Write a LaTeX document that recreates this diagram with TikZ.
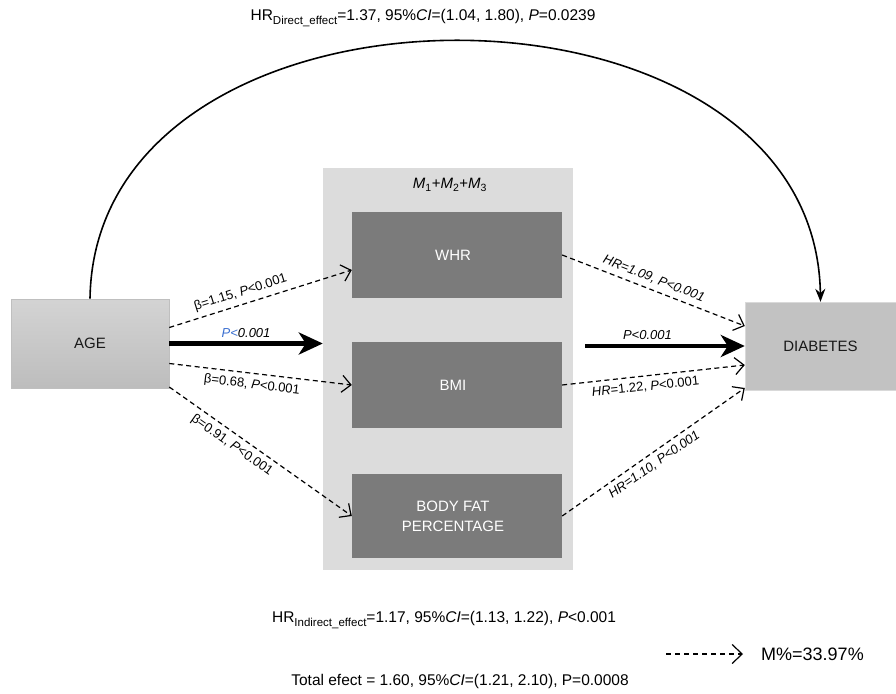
\documentclass[tikz,border=0pt]{standalone}
\usepackage{fontspec}
\setmainfont{Liberation Sans}
\usetikzlibrary{arrows.meta,calc}
\definecolor{panelgray}{HTML}{DCDCDC}
\definecolor{innergray}{HTML}{7B7B7B}
\definecolor{diabgray}{HTML}{C2C2C2}
\definecolor{pblue}{HTML}{3A6FD0}
\newcommand{\mysub}[1]{\raisebox{-4pt}{\fontsize{11.5}{12}\selectfont #1}}
\tikzset{
  agebox/.style={draw=black!25,line width=0.6pt,top color=black!17,bottom color=black!26,minimum width=158pt,minimum height=89pt,font=\fontsize{15}{17}\selectfont,text=black!90},
  diabbox/.style={fill=diabgray,draw=black!15,line width=0.4pt,minimum width=151pt,minimum height=88pt,font=\fontsize{15}{17}\selectfont,text=black!90},
  panelbox/.style={fill=panelgray,draw=none,minimum width=250pt,minimum height=402pt},
  medbox/.style={fill=innergray,draw=none,minimum width=210pt,text=white,font=\fontsize{15}{20}\selectfont,align=center},
  dasharrow/.style={dashed,dash pattern=on 5pt off 3.5pt,line width=1.2pt,-{Straight Barb[length=9pt,width=17pt,line width=1.2pt]}},
  thickarrow/.style={line width=4.5pt,-{Stealth[length=24pt,width=22pt,inset=7pt]}},
  elabel/.style={font=\fontsize{13}{15}\selectfont,inner sep=5pt},
  toplabel/.style={font=\fontsize{15.5}{18}\selectfont},
}
\begin{document}
\begin{tikzpicture}[x=1pt,y=-1pt]
\useasboundingbox (0,0) rectangle (896,693);
\node[panelbox] (panel) at (448,369) {};
\node at (450,185) [font=\fontsize{15}{17}\selectfont] (mlab) {\textit{M}\textsubscript{1}+\textit{M}\textsubscript{2}+\textit{M}\textsubscript{3}};
\node[medbox,minimum height=86pt,text depth=0pt] (whr) at (457,255) {\hspace*{-8pt}WHR};
\node[medbox,minimum height=86pt] (bmi) at (457,385) {\hspace*{-8pt}BMI};
\node[medbox,minimum height=84pt] (body) at (457,516) {\hspace*{-8pt}BODY FAT\\\hspace*{-8pt}PERCENTAGE};
\node[agebox] (age) at (90,343.5) {AGE};
\node[diabbox] (diab) at (820.5,346) {DIABETES};

% direct effect curve
\draw[line width=1.6pt,-{Stealth[length=13pt,width=10pt]}] (age.north) .. controls (95,-45) and (815,-45) .. (diab.north);
\node[toplabel] (toptext) at (423,18) {HR\mysub{Direct\_effect}=1.37, 95\%\textit{CI}=(1.04, 1.80), \textit{P}=0.0239};

% age -> mediators
\draw[dasharrow] ([yshift=16pt]age.east) -- node[elabel,sloped,above,pos=0.41] (l1) {β=1.15, \textit{P}<0.001} ([yshift=-15pt]whr.west);
\draw[thickarrow] (age.east) -- node[elabel,above,pos=0.5,inner sep=2pt,yshift=2pt] (l2) {\textit{\textcolor{pblue}{P<}0.001}} (panel.west |- age.east);
\draw[dasharrow] ([yshift=-20pt]age.east) -- node[elabel,sloped,below,pos=0.46] (l3) {β=0.68, \textit{P}<0.001} (bmi.west);
\draw[dasharrow] ([yshift=-43.5pt]age.east) -- node[elabel,sloped,below,pos=0.38] (l4) {β=0.91, \textit{P}<0.001} (body.west);

% mediators -> diabetes
\draw[dasharrow] (whr.east) -- node[elabel,sloped,above,pos=0.48] (r1) {\textit{HR=1.09, P<0.001}} ([yshift=20pt]diab.west);
\draw[thickarrow] ([xshift=12pt]panel.east |- diab.west) -- node[elabel,above,pos=0.39,inner sep=2pt,yshift=2pt] (r2) {\textit{P<0.001}} (diab.west);
\draw[dasharrow] (bmi.east) -- node[elabel,sloped,below,pos=0.45] (r3) {\textit{HR}=1.22, \textit{P}<0.001} ([yshift=-19pt]diab.west);
\draw[dasharrow] (body.east) -- node[elabel,sloped,below,pos=0.47] (r4) {\textit{HR=1.10, P<0.001}} ([yshift=-42pt]diab.west);

% bottom labels
\node[toplabel] (ind) at (444,620) {HR\mysub{Indirect\_effect}=1.17, 95\%\textit{CI}=(1.13, 1.22), \textit{P}<0.001};
\node[toplabel] (tot) at (460,681) {Total efect = 1.60, 95\%\textit{CI}=(1.21, 2.10), P=0.0008};
\coordinate (legs) at (666,654);
\coordinate (lege) at (743,654);
\draw[dashed,dash pattern=on 5pt off 4pt,line width=1.2pt,-{Straight Barb[length=10pt,width=19pt,line width=1.2pt]}] (legs) -- (lege);
\node[font=\fontsize{18}{20}\selectfont,anchor=west,inner sep=0pt] (mperc) at (761,654) {M\%=33.97\%};
\end{tikzpicture}
\end{document}
